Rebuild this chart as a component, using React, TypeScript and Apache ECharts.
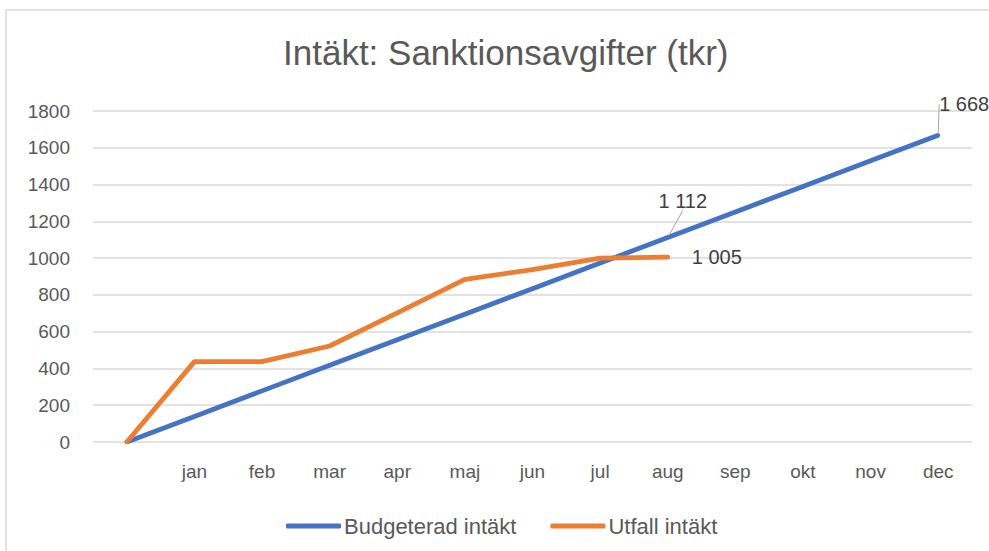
import React, { useEffect, useRef } from "react";
import * as echarts from "echarts";

const categories = ["", "jan", "feb", "mar", "apr", "maj", "jun", "jul", "aug", "sep", "okt", "nov", "dec"];
const budget = [0, 139, 278, 417, 556, 695, 834, 973, 1112, 1251, 1390, 1529, 1668];
const utfall = [0, 437, 437, 522, 702, 884, 938, 1000, 1005];
const seriesNames = ["Budgeterad intäkt", "Utfall intäkt"];
const titleText = "Intäkt: Sanktionsavgifter (tkr)";

const FONT = "'Liberation Sans Narrow', 'Liberation Sans', sans-serif";
const fmt = (v: number) => String(v).replace(/\B(?=(\d{3})+(?!\d))/g, " ");

export default function App() {
  const ref = useRef<HTMLDivElement>(null);
  useEffect(() => {
    const chart = echarts.init(ref.current!, undefined, { renderer: "svg" });
    const budgetLabelIdx = [8, 12];
    chart.setOption({
      animation: false,
      backgroundColor: "#ffffff",
      textStyle: { fontFamily: FONT },
      title: {
        text: titleText,
        left: 278,
        top: 30,
        textStyle: { fontFamily: FONT, fontSize: 35, fontWeight: "normal", color: "#595959" },
      },
      graphic: [
        {
          type: "rect",
          shape: { x: 6, y: 10, width: 1000, height: 560 },
          style: { fill: "none", stroke: "#d9d9d9", lineWidth: 1.5 },
          silent: true,
          z: -1,
        },
      ],
      legend: {
        top: 510,
        left: 281,
        itemWidth: 55,
        itemHeight: 5,
        itemGap: 34,
        icon: "roundRect",
        textStyle: { fontFamily: FONT, fontSize: 22, color: "#595959", padding: [0, 0, 0, -2] },
        data: seriesNames,
      },
      grid: { left: 93, right: 17, top: 111, bottom: 109, containLabel: false },
      xAxis: {
        type: "category",
        data: categories,
        boundaryGap: true,
        axisLine: { show: false },
        axisTick: { show: false },
        axisLabel: { color: "#595959", fontSize: 19, margin: 20, fontFamily: FONT },
      },
      yAxis: {
        type: "value",
        min: 0,
        max: 1800,
        interval: 200,
        axisLine: { show: false },
        axisTick: { show: false },
        axisLabel: {
          color: "#595959",
          fontSize: 19,
          margin: 23,
          fontFamily: FONT,
          formatter: (v: number) => String(v),
        },
        splitLine: { lineStyle: { color: "#d9d9d9", width: 1.5 } },
      },
      series: [
        {
          name: seriesNames[0],
          type: "line",
          data: budget.map((v, i) =>
            budgetLabelIdx.includes(i)
              ? {
                  value: v,
                  label: {
                    show: true,
                    position: "top",
                    formatter: (p: any) => fmt(p.value),
                  },
                  labelLine: { show: true, lineStyle: { color: "#a6a6a6", width: 1 } },
                }
              : v
          ),
          symbol: "circle",
          symbolSize: 4,
          showSymbol: true,
          lineStyle: { color: "#4472C4", width: 4.8 },
          itemStyle: { color: "#4472C4" },
          label: { color: "#404040", fontSize: 20, fontFamily: FONT },
          labelLine: { show: true, lineStyle: { color: "#a6a6a6", width: 1 } },
          labelLayout: (p: any) => {
            if (p.dataIndex === 12) return { dx: 26, dy: -14 };
            if (p.dataIndex === 8) return { dx: 15, dy: -20 };
            return {};
          },
        },
        {
          name: seriesNames[1],
          type: "line",
          data: utfall.map((v, i) =>
            i === utfall.length - 1
              ? {
                  value: v,
                  label: {
                    show: true,
                    position: "right",
                    distance: 22,
                    formatter: (p: any) => fmt(p.value),
                  },
                }
              : v
          ),
          symbol: "circle",
          symbolSize: 4,
          showSymbol: true,
          lineStyle: { color: "#ED7D31", width: 4.8, cap: "round" },
          itemStyle: { color: "#ED7D31" },
          label: { color: "#404040", fontSize: 20, fontFamily: FONT },
        },
      ],
    });
    return () => chart.dispose();
  }, []);
  return <div ref={ref} style={{ position: "fixed", left: 0, top: 0, width: 989, height: 551 }} />;
}
